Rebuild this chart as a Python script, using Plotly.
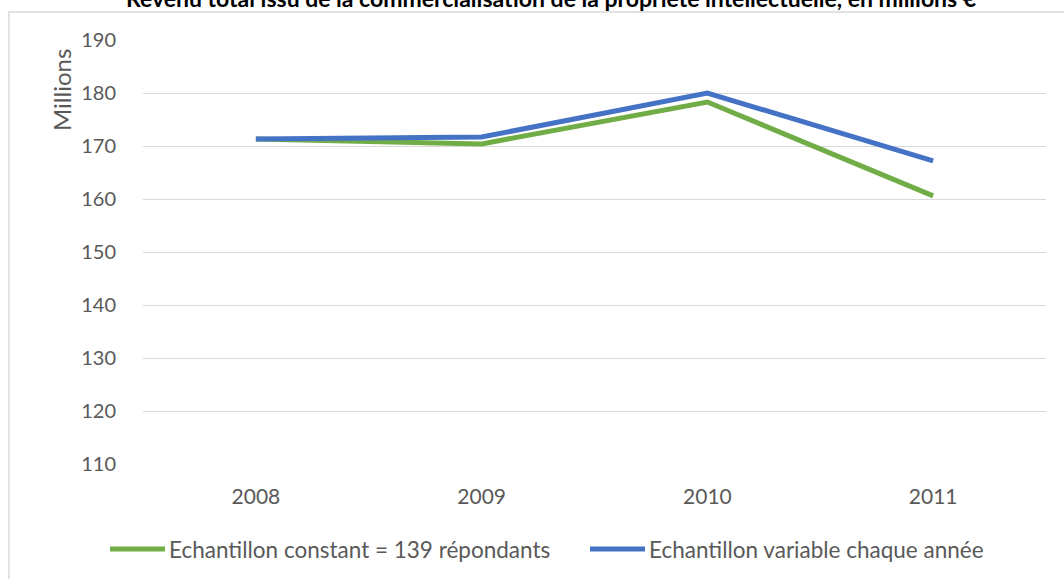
import plotly.graph_objects as go

# data
years = ["2008", "2009", "2010", "2011"]
constant_sample = [171.3, 170.4, 178.3, 160.6]
variable_sample = [171.3, 171.7, 180.0, 167.2]
series_names = ["Echantillon constant = 139 répondants",
                "Echantillon variable chaque année"]
series_colors = ["#70AD47", "#4472C4"]
y_ticks = [110, 120, 130, 140, 150, 160, 170, 180, 190]

W, H = 1064, 579
L, R, T, B = 143, 1046, 40, 464   # plot area in pixels
FONT = "Lato"
GREY = "#595959"


def px_x(x):
    return (x - L) / (R - L)


def px_y(y):
    return (B - y) / (B - T)


fig = go.Figure()
for name, vals, col in zip(series_names, [constant_sample, variable_sample], series_colors):
    fig.add_trace(go.Scatter(
        x=years, y=vals, mode="lines", name=name,
        line=dict(color=col, width=5), showlegend=False,
    ))

fig.update_layout(
    width=W, height=H,
    margin=dict(l=L, r=W - R, t=T, b=H - B),
    plot_bgcolor="white", paper_bgcolor="white",
    font=dict(family=FONT, size=20, color=GREY),
    xaxis=dict(type="category", range=[-0.5, 3.5], showgrid=False, zeroline=False,
               showline=False, ticks="outside", ticklen=14, tickcolor="rgba(0,0,0,0)",
               tickfont=dict(size=21, color=GREY)),
    yaxis=dict(range=[110, 190], tickvals=y_ticks, showgrid=True,
               gridcolor="#d9d9d9", gridwidth=1, zeroline=False, showline=False,
               ticks="outside", ticklen=22, tickcolor="rgba(0,0,0,0)",
               tickfont=dict(size=20, color=GREY)),
)

# chart border (left and top edges visible)
fig.add_shape(type="path", xref="paper", yref="paper",
              path=f"M {px_x(9)},{px_y(600)} L {px_x(9)},{px_y(12)} L {px_x(1100)},{px_y(12)}",
              line=dict(color="#d9d9d9", width=1.5))

# title, partly cut off at the top as in the source
fig.add_annotation(
    text="<b>Revenu total issu de la commercialisation de la propriété intellectuelle, en millions €</b>",
    xref="paper", yref="paper", x=px_x(551), y=px_y(-2), xanchor="center", yanchor="middle",
    showarrow=False, font=dict(family=FONT, size=23, color="#000000"))

# axis title
fig.add_annotation(text="Millions", textangle=-90, xref="paper", yref="paper",
                   x=px_x(61), y=px_y(90), xanchor="center", yanchor="middle",
                   showarrow=False, font=dict(family=FONT, size=24, color=GREY))

# legend drawn by hand
legend_pos = [(110, 165, 167), (590, 645, 647)]
for (x0, x1, tx), name, col in zip(legend_pos, series_names, series_colors):
    fig.add_shape(type="line", xref="paper", yref="paper",
                  x0=px_x(x0), x1=px_x(x1), y0=px_y(549), y1=px_y(549),
                  line=dict(color=col, width=5))
    fig.add_annotation(text=name, xref="paper", yref="paper", x=px_x(tx), y=px_y(549),
                       xanchor="left", yanchor="middle", showarrow=False,
                       font=dict(family=FONT, size=22.5, color=GREY))

# drop the default page margin so the figure sits at the window's top-left corner
fig.write_html("out.html", config={"displayModeBar": False},
               post_script="document.body.style.margin='0';")
